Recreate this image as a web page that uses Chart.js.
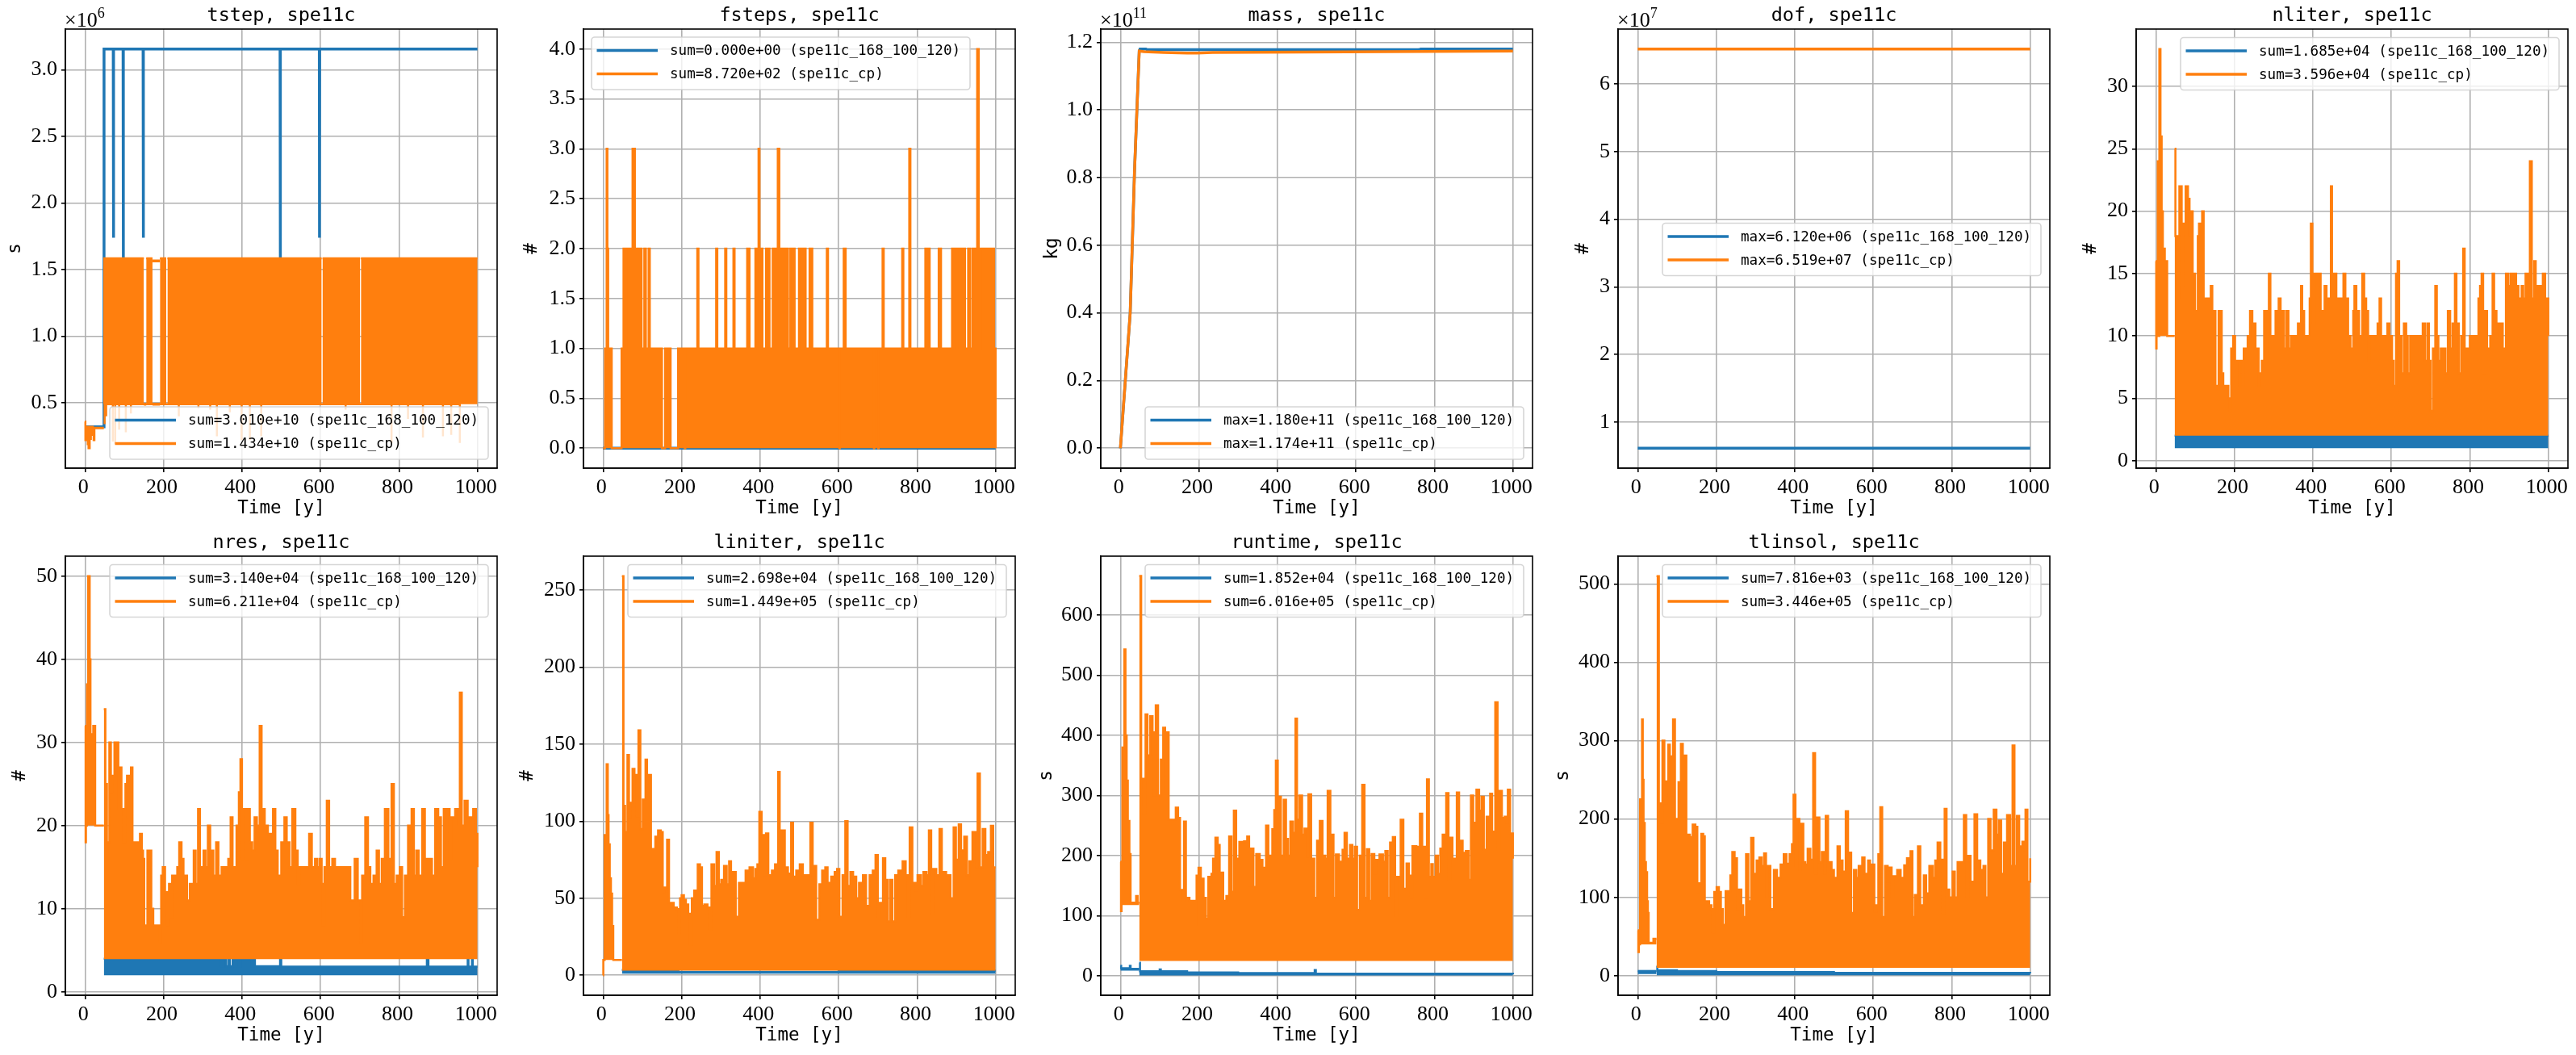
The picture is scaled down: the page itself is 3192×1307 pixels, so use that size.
<!DOCTYPE html>
<html><head><meta charset="utf-8">
<style>html,body{margin:0;padding:0;background:#fff;width:3192px;height:1307px;overflow:hidden}canvas{position:absolute;display:block}</style>
<script src="https://cdn.jsdelivr.net/npm/chart.js@4/dist/chart.umd.js"></script>
</head><body>
<script>
const BLUE='#1f77b4', ORANGE='#ff7f0e';
const xTicks=[0,200,400,600,800,1000];
const xTickLabels=['0','200','400','600','800','1000'];

// ---------- tstep ----------
const tstepBlueLine=[[0,0.32e6],[48,0.32e6],[48.5,3.156e6],[72,3.156e6],[72.5,1.74e6],[73,3.156e6],[97,3.156e6],[97.5,1.55e6],[98,3.156e6],[148,3.156e6],[148.5,1.74e6],[149,3.156e6],[497,3.156e6],[497.5,1.55e6],[498,3.156e6],[597,3.156e6],[597.5,1.74e6],[598,3.156e6],[1000,3.156e6]];
const tstepCpEarly=[[0,0.36e6],[1,0.22e6],[2,0.32e6],[5,0.28e6],[6,0.32e6],[7,0.19e6],[9,0.16e6],[12,0.32e6],[13,0.23e6],[15,0.32e6],[17,0.26e6],[18,0.32e6],[20,0.29e6],[22,0.22e6],[24,0.31e6],[29,0.31e6],[48,0.31e6]];
const tstepCpMain=[[46.5,1.585e6],[150,1.585e6],[150.5,null],[156,1.585e6],[172,1.585e6],[172.5,null],[191,1.585e6],[207,1.585e6],[207.5,null],[210,1.585e6],[603,1.585e6],[603.5,null],[605,1.585e6],[701,1.585e6],[701.5,null],[703,1.585e6],[1000,1.585e6]];
const tstepCpBridge=[[172,1.565e6],[191,1.565e6],[191.5,null],[150,0.49e6],[156,0.49e6],[156.5,null],[172,0.49e6],[191,0.49e6]];
const tstepCpDipTimes=[50,54,71,77,87,104,117,239,289,319,336,369,399,420,449,664,781,823,861,912,933,955];
const tstepCpDipValues=[0.34e6,0.4e6,0.21e6,0.19e6,0.3e6,0.28e6,0.42e6,0.4e6,0.46e6,0.45e6,0.25e6,0.43e6,0.22e6,0.22e6,0.25e6,0.45e6,0.2e6,0.38e6,0.24e6,0.25e6,0.26e6,0.2e6];

// ---------- fsteps ----------
const fstepsBlue=[[0,0],[1000,0]];
const fstepsCp=[[0,0],[5,1],[9,3],[11,2],[13,1],[22,0],[47,1],[52,2],[55,1],[59,2],[75,3],[81,2],[98,1],[105,2],[109,1],[116,2],[119,1],[150,0],[158,1],[172,0],[191,1],[208,0],[209.5,1],[240,2],[243,1],[288,2],[291,1],[311,2],[314,1],[332,2],[335,1],[367,2],[373,1],[388,2],[396,3],[398.5,1],[403,2],[406,1],[415,2],[424,1],[432,2],[445,3],[449,2],[471,1],[477,2],[488,1],[499,2],[516,1],[526,2],[533,1],[570,2],[573,1],[602,0],[603,1],[613,2],[618,1],[690,0],[691,1],[701,0],[702,1],[712,2],[715,1],[762,2],[765,1],[780,3],[783,1],[821,2],[832,1],[855,2],[861,1],[889,2],[899,1],[903,2],[922,1],[930,2],[935,1],[941,2],[949,1],[953,4],[957,1],[962,2],[991,1],[993,2],[996,1],[1000,0]];

// ---------- mass ----------
const massBlue=[[0,0],[25,0.4e11],[36,0.82e11],[48,1.175e11],[50,1.18e11],[65,1.18e11],[68,1.178e11],[760,1.178e11],[765,1.18e11],[1000,1.18e11]];
const massCp=[[0,0],[25,0.4e11],[36,0.82e11],[48,1.174e11],[60,1.172e11],[110,1.17e11],[170,1.168e11],[195,1.168e11],[235,1.17e11],[470,1.171e11],[1000,1.174e11]];

// ---------- dof ----------
const dofBlue=[[0,6.12e6],[1000,6.12e6]];
const dofCp=[[0,6.519e7],[1000,6.519e7]];

// ---------- nliter ----------
const nliterBlue=[[48,2],[1000,2]];
const nliterCpEarly=[[0,16],[1,9],[2,16],[3,10],[4,13],[5,24],[8,10],[9,33],[12,26],[15,20],[18,17],[23,16],[29,10],[48,10]];
const nliterCp=[[48,25],[50,18],[56,13],[60,22],[66,14],[70,19],[76,22],[82,21],[86,18],[90,20],[94,15],[100,12],[107,18],[110,19],[113,14],[118,20],[122,13],[140,14],[144,12],[152,6],[160,12],[168,7],[172,6],[185,5],[189,4],[192,9],[197,10],[202,8],[212,6],[214,8],[220,6],[224,9],[234,10],[240,12],[246,11],[254,9],[262,6],[266,7],[270,8],[276,12],[281,8],[286,12],[288,15],[292,10],[305,12],[309,10],[313,13],[318,10],[322,12],[326,9],[332,12],[338,9],[344,10],[362,11],[370,14],[373,11],[376,12],[378,10],[392,13],[395,19],[399,11],[404,15],[410,11],[414,15],[420,12],[430,14],[435,13],[446,22],[449,15],[460,13],[478,15],[483,13],[490,10],[496,9],[503,12],[506,14],[511,12],[518,10],[526,15],[531,13],[536,12],[541,8],[544,10],[565,11],[570,13],[574,10],[590,11],[595,10],[602,8],[606,6],[612,15],[616,16],[620,10],[626,7],[632,11],[638,10],[642,7],[648,10],[680,11],[686,8],[692,11],[696,8],[700,4],[706,9],[712,14],[716,10],[720,8],[726,9],[738,7],[744,12],[750,9],[756,11],[762,15],[766,11],[772,7],[778,10],[783,17],[787,9],[800,10],[822,13],[826,14],[830,15],[834,7],[838,12],[844,9],[852,10],[858,15],[862,12],[868,11],[876,10],[880,11],[884,9],[892,15],[898,14],[904,15],[908,14],[912,15],[918,14],[924,13],[932,14],[936,13],[942,15],[950,13],[953,24],[958,13],[964,16],[968,14],[986,15],[992,13],[1000,10]];

// ---------- nres ----------
const nresBlue=[[48,4],[345,3.1],[347,4],[352,3.1],[354,4],[360,3.1],[366,4],[369,3.1],[376,4],[382,3.1],[386,4],[392,3.1],[396,4],[425,3.1],[430,4],[433,3.1],[497,4],[500,3.05],[871,4],[875,3.05],[975,4],[977,3.05],[986,4],[988,3.05],[1000,3.05]];
const nresCpEarly=[[0,32],[1.5,18],[2.5,20],[5,37],[8,50],[12,40],[14,31],[18,30],[21,32],[26,20],[48,20]];
const nresCp=[[48,34],[52,25],[56,18],[62,30],[66,24],[70,26],[75,30],[81,30],[85,22],[89,27],[93,22],[98,18],[103,25],[107,26],[112,19],[117,27],[121,18],[134,18],[140,19],[145,17],[148,16],[151,8],[159,17],[166,17],[169,10],[174,8],[188,8],[191,6],[194,14],[198,15],[204,12],[209,8],[214,13],[218,9],[222,14],[235,15],[240,18],[246,16],[251,14],[260,11],[267,13],[277,17],[282,13],[288,22],[293,15],[302,17],[307,15],[313,20],[319,15],[323,17],[327,14],[334,18],[340,14],[348,15],[365,16],[371,21],[376,15],[386,20],[392,24],[396,28],[400,16],[404,22],[410,16],[415,22],[420,18],[426,17],[432,21],[438,20],[445,32],[450,22],[458,20],[466,19],[474,15],[479,22],[485,17],[491,14],[500,18],[508,21],[514,18],[521,15],[528,22],[536,17],[542,13],[547,15],[571,19],[578,15],[586,16],[592,15],[598,16],[603,13],[606,8],[610,15],[616,23],[622,15],[630,16],[637,15],[676,11],[687,16],[695,11],[701,6],[706,14],[714,21],[721,15],[727,13],[735,14],[743,17],[749,13],[756,16],[764,22],[773,16],[781,25],[787,13],[794,14],[802,15],[808,9],[815,14],[823,20],[832,22],[838,14],[844,17],[850,14],[859,22],[866,16],[884,14],[892,22],[900,21],[907,15],[914,22],[929,16],[934,21],[943,22],[950,20],[955,36],[960,20],[967,23],[975,21],[989,22],[996,19],[1000,15]];

// ---------- liniter ----------
const liniterBlueEarly=[[3,9],[7,null],[22,9],[28,null],[33,7],[38,null]];
const liniterBlue=[[48,3.5],[192,2.2],[400,2.2],[600,3],[1000,3]];
const liniterCpEarly=[[0,0],[0.5,10],[4,91],[9,137],[12,104],[14,85],[17,63],[20,53],[23,32],[26,10],[48,10]];
const liniterCp=[[48,259],[52,110],[56,93],[62,143],[66,102],[70,112],[75,134],[80,130],[85,103],[90,159],[95,95],[101,114],[108,140],[112,108],[117,130],[122,82],[133,90],[140,94],[147,93],[152,54],[157,57],[163,88],[168,47],[180,44],[188,43],[192,27],[196,50],[200,52],[206,49],[211,46],[217,40],[221,20],[226,50],[232,55],[241,72],[247,70],[252,45],[258,46],[266,44],[271,30],[276,72],[283,58],[289,80],[295,59],[301,62],[308,71],[315,59],[321,74],[326,42],[331,67],[338,38],[346,60],[363,68],[373,70],[382,63],[388,69],[393,72],[398,106],[404,91],[410,65],[415,92],[421,65],[430,68],[438,72],[446,132],[450,70],[455,94],[463,70],[471,66],[479,99],[484,64],[492,68],[501,72],[509,65],[528,99],[534,71],[543,36],[551,59],[558,68],[566,70],[572,60],[581,64],[590,67],[596,69],[602,38],[610,65],[617,100],[623,58],[630,67],[637,64],[645,50],[652,60],[662,65],[670,45],[679,65],[687,68],[694,78],[700,38],[705,47],[713,76],[719,62],[725,35],[731,62],[737,35],[744,65],[752,68],[763,74],[771,65],[776,38],[781,96],[788,60],[796,55],[801,65],[810,58],[816,67],[824,65],[830,94],[836,40],[841,69],[849,65],[857,95],[863,67],[874,65],[885,50],[893,96],[899,75],[906,98],[912,81],[920,90],[927,65],[933,74],[941,93],[950,70],[954,131],[960,70],[967,95],[974,78],[981,80],[988,97],[994,52],[996,70],[1000,70]];

// ---------- runtime ----------
const runtimeBlueEarly=[[0,17],[2,13],[24,17],[26,12],[48,12]];
const runtimeBlue=[[48,22],[50,8],[100,11],[103,8],[170,6],[300,5],[495,10],[498,4],[1000,3]];
const runtimeCpEarly=[[0,190],[1.5,108],[3,125],[5,380],[10,543],[13,400],[16,325],[19,258],[23,203],[26,122],[40,133],[44,122],[48,122]];
const runtimeCp=[[48,665],[53,328],[59,270],[64,435],[69,367],[76,432],[82,405],[86,300],[90,450],[96,300],[103,360],[109,413],[114,305],[118,405],[123,260],[134,260],[141,280],[147,263],[152,143],[157,125],[162,257],[167,130],[176,125],[184,125],[190,85],[194,167],[199,180],[205,162],[212,130],[218,95],[224,165],[232,170],[236,195],[242,230],[248,218],[253,125],[257,172],[262,125],[270,133],[277,232],[283,140],[289,275],[295,195],[303,223],[315,224],[323,232],[328,150],[333,212],[339,148],[346,203],[355,193],[362,180],[371,250],[377,200],[387,244],[392,276],[396,358],[401,298],[409,200],[416,293],[422,228],[427,200],[433,257],[440,238],[446,428],[450,260],[456,300],[463,235],[469,245],[475,198],[479,302],[486,195],[494,130],[501,225],[508,258],[515,200],[522,195],[528,308],[535,235],[543,130],[549,202],[557,190],[566,210],[571,238],[577,195],[585,218],[591,195],[597,215],[603,110],[610,200],[616,318],[622,130],[628,211],[634,125],[640,203],[647,170],[652,193],[660,202],[669,190],[675,208],[681,130],[687,222],[694,231],[700,100],[705,165],[714,260],[721,145],[729,187],[735,167],[740,130],[744,216],[754,215],[763,270],[769,215],[776,130],[781,327],[786,165],[792,186],[796,165],[803,200],[809,170],[815,212],[821,235],[830,304],[836,160],[841,230],[846,195],[857,305],[863,225],[872,205],[880,208],[887,160],[893,300],[899,255],[907,310],[914,275],[920,298],[926,210],[933,265],[942,303],[947,240],[955,455],[961,210],[966,308],[972,263],[979,265],[983,255],[987,310],[993,237],[1000,195]];

// ---------- tlinsol ----------
const tlinsolBlueEarly=[[0,6],[48,6]];
const tlinsolBlue=[[48,12],[50,7],[100,6],[200,4.5],[500,3.5],[1000,3]];
const tlinsolCpEarly=[[0,58],[1.5,30],[3,40],[6,225],[11,327],[13,250],[15,195],[18,145],[21,132],[24,95],[26,80],[28,42],[40,47],[48,47]];
const tlinsolCp=[[48,510],[54,220],[59,195],[63,300],[68,220],[73,248],[78,295],[82,280],[86,230],[90,327],[95,200],[104,247],[110,296],[115,220],[119,281],[124,180],[133,177],[140,193],[147,190],[152,107],[157,118],[162,181],[167,178],[171,95],[182,90],[188,85],[191,55],[195,107],[201,113],[207,107],[212,85],[217,65],[224,108],[236,128],[241,158],[247,150],[253,85],[258,110],[264,90],[269,75],[276,155],[282,95],[289,176],[295,130],[303,147],[310,151],[316,140],[322,156],[327,100],[331,140],[338,85],[347,135],[355,125],[364,142],[372,155],[379,143],[387,155],[393,168],[397,231],[402,140],[406,200],[412,135],[416,194],[422,145],[427,142],[433,162],[440,148],[447,284],[452,130],[457,202],[463,145],[469,158],[475,130],[479,204],[485,145],[494,135],[500,125],[509,165],[515,147],[522,133],[530,210],[536,157],[544,80],[551,135],[557,125],[563,140],[572,151],[578,130],[587,147],[592,130],[597,142],[603,82],[608,90],[613,155],[618,215],[623,75],[630,140],[637,120],[641,138],[647,100],[651,127],[661,135],[670,125],[679,141],[686,150],[695,159],[700,75],[706,103],[714,165],[720,90],[729,128],[735,105],[743,140],[752,125],[758,147],[764,170],[771,148],[777,80],[782,213],[787,110],[794,100],[802,133],[808,100],[815,145],[831,205],[837,100],[842,153],[848,120],[858,206],[865,147],[873,135],[881,140],[886,100],[893,200],[899,160],[907,212],[914,180],[920,198],[926,130],[933,170],[941,205],[949,140],[955,294],[960,140],[966,204],[972,165],[980,171],[985,160],[988,212],[993,120],[1000,150]];

// ---------- labels ----------
const long1='(spe11c_168_100_120)', long2='(spe11c_cp)';
const pts=a=>a.map(([x,y])=>({x,y}));
const band=(env,base,color,label)=>({label,data:pts(env),stepped:true,fill:{value:base},backgroundColor:color,borderColor:color,borderWidth:2.5,pointRadius:0,order:color===BLUE?2:1});
const line=(arr,color,label)=>({label,data:pts(arr),fill:false,borderColor:color,borderWidth:3.5,pointRadius:0,tension:0,order:color===BLUE?2:1});

const tstepDips=[];tstepCpDipTimes.forEach((t,i)=>{tstepDips.push([t,0.49e6],[t,tstepCpDipValues[i]],[t,0.49e6]);});

const panels=[
 {title:'tstep, spe11c',yl:'s',gap:61,f:[81,36],exp:'6',range:[0.01e6,3.306e6],tv:[0.5e6,1e6,1.5e6,2e6,2.5e6,3e6],tl:['0.5','1.0','1.5','2.0','2.5','3.0'],
  leg:['sum=3.010e+10 '+long1,'sum=1.434e+10 '+long2],loc:'lr',
  ds:l=>[line(tstepBlueLine,BLUE,l[0]),band(tstepCpEarly,0.32e6,ORANGE,l[1]),band(tstepCpMain,0.49e6,ORANGE,l[1]),line(tstepCpBridge,ORANGE,l[1]),{...line(tstepDips,ORANGE,l[1]),borderWidth:2.5}]},
 {title:'fsteps, spe11c',yl:'#',gap:63,f:[723,36],range:[-0.2,4.2],tv:[0,0.5,1,1.5,2,2.5,3,3.5,4],tl:['0.0','0.5','1.0','1.5','2.0','2.5','3.0','3.5','4.0'],
  leg:['sum=0.000e+00 '+long1,'sum=8.720e+02 '+long2],loc:'ul',
  ds:l=>[line(fstepsBlue,BLUE,l[0]),band(fstepsCp,0,ORANGE,l[1])]},
 {title:'mass, spe11c',yl:'kg',gap:59,f:[1364,36],exp:'11',range:[-0.059e11,1.239e11],tv:[0,0.2e11,0.4e11,0.6e11,0.8e11,1e11,1.2e11],tl:['0.0','0.2','0.4','0.6','0.8','1.0','1.2'],
  leg:['max=1.180e+11 '+long1,'max=1.174e+11 '+long2],loc:'lr',
  ds:l=>[line(massBlue,BLUE,l[0]),line(massCp,ORANGE,l[1])]},
 {title:'dof, spe11c',yl:'#',gap:42,f:[2005,36],exp:'7',range:[0.317e7,6.814e7],tv:[1e7,2e7,3e7,4e7,5e7,6e7],tl:['1','2','3','4','5','6'],
  leg:['max=6.120e+06 '+long1,'max=6.519e+07 '+long2],loc:'cr',
  ds:l=>[line(dofBlue,BLUE,l[0]),line(dofCp,ORANGE,l[1])]},
 {title:'nliter, spe11c',yl:'#',gap:55,f:[2647,36],range:[-0.6,34.6],tv:[0,5,10,15,20,25,30],tl:['0','5','10','15','20','25','30'],
  leg:['sum=1.685e+04 '+long1,'sum=3.596e+04 '+long2],loc:'ur',
  ds:l=>[band(nliterBlue,1,BLUE,l[0]),band(nliterCpEarly,10,ORANGE,l[1]),band(nliterCp,2,ORANGE,l[1])]},
 {title:'nres, spe11c',yl:'#',gap:55,f:[81,689],range:[-0.4,52.4],tv:[0,10,20,30,40,50],tl:['0','10','20','30','40','50'],
  leg:['sum=3.140e+04 '+long1,'sum=6.211e+04 '+long2],loc:'ur',
  ds:l=>[band(nresBlue,2,BLUE,l[0]),band(nresCpEarly,20,ORANGE,l[1]),band(nresCp,3.95,ORANGE,l[1])]},
 {title:'liniter, spe11c',yl:'#',gap:68,f:[723,689],range:[-12.95,271.95],tv:[0,50,100,150,200,250],tl:['0','50','100','150','200','250'],
  leg:['sum=2.698e+04 '+long1,'sum=1.449e+05 '+long2],loc:'ur',
  ds:l=>[band(liniterBlueEarly,0,BLUE,l[0]),band(liniterBlue,1,BLUE,l[0]),band(liniterCpEarly,10,ORANGE,l[1]),band(liniterCp,3,ORANGE,l[1])]},
 {title:'runtime, spe11c',yl:'s',gap:66,f:[1364,689],range:[-32,698],tv:[0,100,200,300,400,500,600],tl:['0','100','200','300','400','500','600'],
  leg:['sum=1.852e+04 '+long1,'sum=6.016e+05 '+long2],loc:'ur',
  ds:l=>[band(runtimeBlueEarly,9,BLUE,l[0]),band(runtimeBlue,1,BLUE,l[0]),band(runtimeCpEarly,118,ORANGE,l[1]),band(runtimeCp,25,ORANGE,l[1])]},
 {title:'tlinsol, spe11c',yl:'s',gap:67,f:[2005,689],range:[-25,535.5],tv:[0,100,200,300,400,500],tl:['0','100','200','300','400','500'],
  leg:['sum=7.816e+03 '+long1,'sum=3.446e+05 '+long2],loc:'ur',
  ds:l=>[band(tlinsolBlueEarly,2,BLUE,l[0]),band(tlinsolBlue,0.5,BLUE,l[0]),band(tlinsolCpEarly,40,ORANGE,l[1]),band(tlinsolCp,10,ORANGE,l[1])]},
];

const MONO='"DejaVu Sans Mono"', SERIF='"Liberation Serif"';
const FW=535, FH=544, T=30, B=64, R=10;

const overlay={id:'overlay',afterDatasetsDraw(c,_,o){
  const a=c.chartArea,g=c.ctx;g.save();
  g.strokeStyle='#000';g.lineWidth=1.6;g.strokeRect(a.left,a.top,a.right-a.left,a.bottom-a.top);
  if(o.exp){g.fillStyle='#000';g.textAlign='left';g.textBaseline='alphabetic';
    g.font='26px '+SERIF;g.fillText('×10',a.left-1,a.top-3);
    const w=g.measureText('×10').width;g.font='18px '+SERIF;g.fillText(o.exp,a.left-1+w,a.top-14);}
  const bw=469,bh=65;let bx,by;
  if(o.loc==='ul'){bx=a.left+10;by=a.top+10;}
  else{bx=a.right-11-bw;by=o.loc==='ur'?a.top+10.5:o.loc==='lr'?a.bottom-11-bh:(a.top+a.bottom)/2-bh/2+1;}
  g.beginPath();g.roundRect(bx,by,bw,bh,4);g.fillStyle='rgba(255,255,255,0.8)';g.fill();g.strokeStyle='rgba(204,204,204,0.8)';g.lineWidth=1.6;g.stroke();
  [BLUE,ORANGE].forEach((col,i)=>{const y=by+16.5+i*29;
    g.strokeStyle=col;g.lineWidth=3.5;g.beginPath();g.moveTo(bx+6.5,y);g.lineTo(bx+82,y);g.stroke();
    g.fillStyle='#000';g.font='17.6px '+MONO;g.textAlign='left';g.textBaseline='middle';g.fillText(o.leg[i],bx+97,y+1);});
  g.restore();
}};

panels.forEach(p=>{
  const L=p.gap+14,cv=document.createElement('canvas');
  const W=L+FW+R,H=T+FH+B;
  cv.width=W;cv.height=H;cv.style.left=(p.f[0]-L)+'px';cv.style.top=(p.f[1]-T)+'px';cv.style.width=W+'px';cv.style.height=H+'px';
  document.body.appendChild(cv);
  new Chart(cv,{type:'line',plugins:[overlay],data:{datasets:p.ds(p.leg)},options:{
    responsive:false,animation:false,devicePixelRatio:1,parsing:true,
    layout:{padding:{left:0,right:R,top:0,bottom:0}},
    plugins:{legend:{display:false},tooltip:{enabled:false},
      title:{display:true,text:p.title,fullSize:false,color:'#000',font:{family:MONO,size:23.5,weight:'normal',lineHeight:1.2},padding:{top:0,bottom:T-28.2}},
      overlay:{exp:p.exp,leg:p.leg,loc:p.loc}},
    scales:{
      x:{type:'linear',min:-50,max:1050,
        afterBuildTicks:s=>{s.ticks=xTicks.map(value=>({value}));},
        afterFit:s=>{s.height=B;},
        grid:{color:'#b0b0b0',lineWidth:1.6,tickColor:'#000',tickWidth:1.6,tickLength:5},
        border:{color:'#000',width:1.6},
        ticks:{autoSkip:false,maxRotation:0,padding:4,labelOffset:-2,color:'#000',font:{family:SERIF,size:26},callback:(v,i)=>xTickLabels[i]},
        title:{display:true,text:'Time [y]',color:'#000',font:{family:MONO,size:22.5,weight:'normal',lineHeight:1.2},padding:0}},
      y:{type:'linear',min:p.range[0],max:p.range[1],
        afterBuildTicks:s=>{s.ticks=p.tv.map(value=>({value}));},
        afterFit:s=>{s.width=L;},
        grid:{color:'#b0b0b0',lineWidth:1.6,tickColor:'#000',tickWidth:1.6,tickLength:5},
        border:{color:'#000',width:1.6},
        ticks:{autoSkip:false,maxRotation:0,padding:5,color:'#000',font:{family:SERIF,size:26},callback:(v,i)=>p.tl[i]},
        title:{display:true,text:p.yl,color:'#000',font:{family:MONO,size:22.5,weight:'normal',lineHeight:1.2},padding:0}}
    }}});
});
</script>
</body></html>
